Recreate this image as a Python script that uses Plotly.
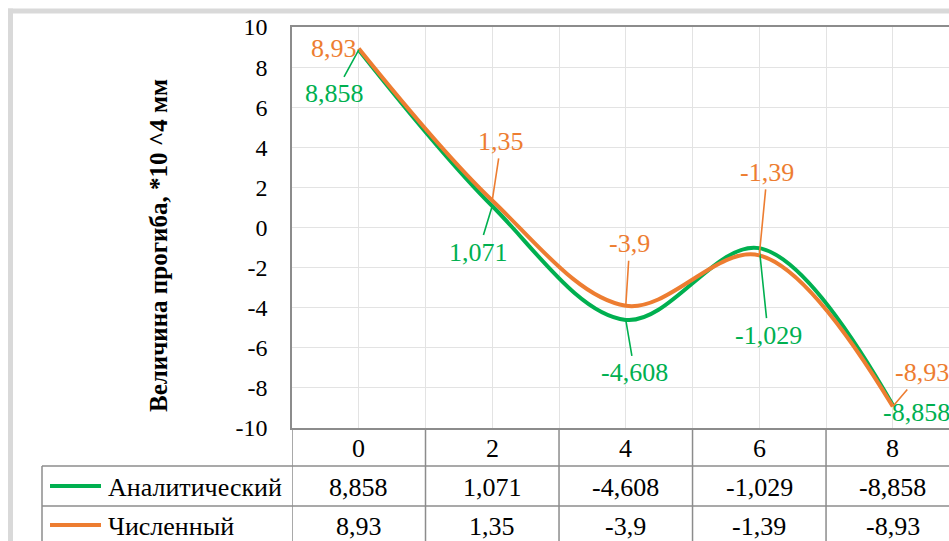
import plotly.graph_objects as go

# ---- data -------------------------------------------------------------
x_labels = ["0", "2", "4", "6", "8"]
series_names = ["Аналитический", "Численный"]
analytic = [8.858, 1.071, -4.608, -1.029, -8.858]
numeric = [8.93, 1.35, -3.9, -1.39, -8.93]
y_tick_vals = [-10, -8, -6, -4, -2, 0, 2, 4, 6, 8, 10]
y_title = "Величина прогиба, *10 ^4 мм"

# ---- style ------------------------------------------------------------
W, H = 949, 541
GREEN = "#00B050"
ORANGE = "#ED7D31"
FONT = "Liberation Serif"
FS = 26          # table and data labels
FS_TICK = 24
FS_TITLE = 25
GRID = "#e3e3e3"
BORDER = "#8c8c8c"

# plot area in pixels
PL, PT, PB = 292, 27, 428
X_RIGHT = 4.421  # category units visible at the right edge

def px(v):
    return v / W

def py(v):
    return 1 - v / H

def fmt(v):
    return str(v).replace(".", ",")

idx = list(range(len(x_labels)))

fig = go.Figure()
fig.add_trace(go.Scatter(x=idx, y=analytic, mode="lines", name=series_names[0],
                         line=dict(color=GREEN, width=4, shape="spline", smoothing=1),
                         cliponaxis=False, showlegend=False))
fig.add_trace(go.Scatter(x=idx, y=numeric, mode="lines", name=series_names[1],
                         line=dict(color=ORANGE, width=4, shape="spline", smoothing=1),
                         cliponaxis=False, showlegend=False))

annotations = []

def text_font(col="black", size=FS):
    return dict(family=FONT, size=size, color=col)

# data labels: (dx, dy, leader) offsets in pixels from the point
green_lbl = [(-24, 44, True), (-14, 46, True), (9, 53, True), (9, 87, True), (24, 7, False)]
orange_lbl = [(-25, 0, False), (9, -59, True), (4, -62, True), (8, -83, True), (29, -34, True)]

for vals, offs, col in ((analytic, green_lbl, GREEN), (numeric, orange_lbl, ORANGE)):
    for i, (v, (dx, dy, lead)) in enumerate(zip(vals, offs)):
        if lead:
            annotations.append(dict(x=i, y=v, xref="x", yref="y", text=fmt(v),
                                    showarrow=True, ax=dx, ay=dy, arrowhead=0,
                                    arrowwidth=1.6, arrowcolor=col, standoff=0,
                                    borderpad=2, font=text_font(col)))
        else:
            annotations.append(dict(x=i, y=v, xref="x", yref="y", text=fmt(v),
                                    showarrow=False, xshift=dx, yshift=-dy,
                                    xanchor="center", yanchor="middle",
                                    font=text_font(col)))

# y-axis title
annotations.append(dict(x=px(158), y=py(246), xref="paper", yref="paper",
                        xanchor="center", yanchor="middle",
                        text="<b>" + y_title + "</b>", textangle=-90, showarrow=False,
                        font=text_font(size=FS_TITLE)))

# ---- data table under the plot -----------------------------------------
shapes = []
rule = dict(color=BORDER, width=1.5)
for yy in (466, 506):
    shapes.append(dict(type="line", xref="paper", yref="paper", x0=px(42), x1=1,
                       y0=py(yy), y1=py(yy), line=rule))
for k in range(len(x_labels)):
    shapes.append(dict(type="line", xref="x", yref="paper", x0=k - 0.5, x1=k - 0.5,
                       y0=py(428), y1=0, line=rule))
shapes.append(dict(type="line", xref="paper", yref="paper", x0=px(42), x1=px(42),
                   y0=py(466), y1=0, line=rule))

# outer chart frame
frame = dict(color="#d9d9d9", width=5)
shapes.append(dict(type="line", xref="paper", yref="paper", x0=px(8), x1=1,
                   y0=py(11), y1=py(11), line=frame))
shapes.append(dict(type="line", xref="paper", yref="paper", x0=px(10.5), x1=px(10.5),
                   y0=py(8.5), y1=0, line=frame))

row_centers = [448, 487, 526]
for i, lab in enumerate(x_labels):
    annotations.append(dict(x=i, y=py(row_centers[0]), xref="x", yref="paper", text=lab,
                            xanchor="center", yanchor="middle",
                            showarrow=False, font=text_font()))
for r, (vals, col, name) in enumerate(((analytic, GREEN, series_names[0]),
                                       (numeric, ORANGE, series_names[1]))):
    yc = row_centers[r + 1]
    for i, v in enumerate(vals):
        annotations.append(dict(x=i, y=py(yc), xref="x", yref="paper", text=fmt(v),
                                xanchor="center", yanchor="middle",
                                showarrow=False, font=text_font()))
    # legend key
    shapes.append(dict(type="line", xref="paper", yref="paper", x0=px(50), x1=px(101),
                       y0=py(yc - 1), y1=py(yc - 1), line=dict(color=col, width=4)))
    annotations.append(dict(x=px(106), y=py(yc), xref="paper", yref="paper", text=name,
                            xanchor="left", yanchor="middle", showarrow=False,
                            font=text_font()))

fig.update_layout(
    width=W, height=H,
    margin=dict(l=0, r=0, t=0, b=0, pad=0, autoexpand=False),
    paper_bgcolor="white", plot_bgcolor="white",
    showlegend=False,
    annotations=annotations,
    shapes=shapes,
    xaxis=dict(domain=[px(PL), 1], range=[-0.5, X_RIGHT], showticklabels=False,
               tick0=-0.5, dtick=0.5, showgrid=True, gridcolor=GRID, gridwidth=1,
               zeroline=False, showline=True, linecolor=BORDER, linewidth=1.5,
               mirror=True, ticks="", automargin=False),
    yaxis=dict(domain=[py(PB), py(PT)], range=[-10, 10],
               tickvals=y_tick_vals, ticktext=[str(v) for v in y_tick_vals],
               showgrid=True, gridcolor=GRID, gridwidth=1, zeroline=False,
               showline=True, linecolor=BORDER, linewidth=1.5, ticks="",
               ticklabelstandoff=18, automargin=False,
               tickfont=text_font(size=FS_TICK)),
)

fig.write_html("out.html")
